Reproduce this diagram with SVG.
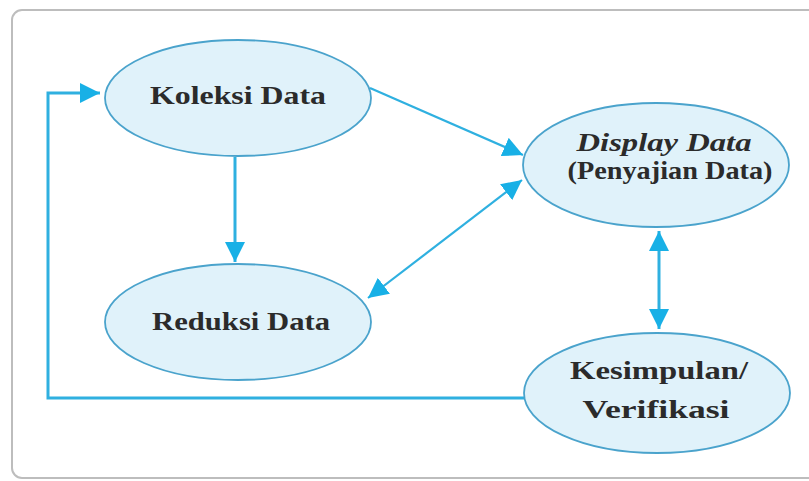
<svg xmlns="http://www.w3.org/2000/svg" width="809" height="481" viewBox="0 0 809 481">
<defs>
<style>
.node ellipse{fill:#e0f2fa;stroke:#4aa3cc;stroke-width:1.8}
.node text{font-family:"Liberation Serif","DejaVu Serif",serif;font-weight:bold;font-size:26px;fill:#2b2b2b;text-anchor:middle}
.conn{fill:none;stroke:#2fb0e0;stroke-width:3}
.thin{stroke-width:2.2}
</style>
<marker id="ah" viewBox="0 0 20 20" refX="20" refY="10" markerWidth="20" markerHeight="20" markerUnits="userSpaceOnUse" orient="auto-start-reverse">
<path d="M0,0 L20,10 L0,20 Z" fill="#18b0e6"/>
</marker>
</defs>
<rect x="0" y="0" width="809" height="481" fill="#ffffff"/>
<rect x="12" y="10" width="830" height="468" rx="10" fill="#ffffff" stroke="#bdbdbd" stroke-width="2"/>
<g id="connectors">
<line class="conn" x1="235" y1="157" x2="235" y2="262" marker-end="url(#ah)"/>
<line class="conn thin" x1="370" y1="88" x2="523" y2="155" marker-end="url(#ah)"/>
<line class="conn thin" x1="522" y1="180" x2="368" y2="298" marker-start="url(#ah)" marker-end="url(#ah)"/>
<line class="conn" x1="659" y1="231" x2="659" y2="329" marker-start="url(#ah)" marker-end="url(#ah)"/>
<polyline class="conn" points="526,398 48,398 48,93 100,93" marker-end="url(#ah)"/>
</g>
<g id="koleksi" class="node">
<ellipse cx="238" cy="98" rx="133" ry="58"/>
<text x="238" y="104" font-size="28" textLength="176" lengthAdjust="spacingAndGlyphs">Koleksi Data</text>
</g>
<g id="display" class="node">
<ellipse cx="656" cy="165" rx="133" ry="62"/>
<text x="664" y="151" font-size="22" font-style="italic" font-weight="normal" textLength="175" lengthAdjust="spacingAndGlyphs">Display Data</text>
<text x="670" y="179" font-size="23" textLength="205" lengthAdjust="spacingAndGlyphs">(Penyajian Data)</text>
</g>
<g id="reduksi" class="node">
<ellipse cx="238" cy="322" rx="133" ry="58"/>
<text x="241" y="330" textLength="178" lengthAdjust="spacingAndGlyphs">Reduksi Data</text>
</g>
<g id="kesimpulan" class="node">
<ellipse cx="657" cy="393" rx="133" ry="60"/>
<text x="659" y="379" textLength="178" lengthAdjust="spacingAndGlyphs">Kesimpulan/</text>
<text x="656" y="418" textLength="147" lengthAdjust="spacingAndGlyphs">Verifikasi</text>
</g>
</svg>
